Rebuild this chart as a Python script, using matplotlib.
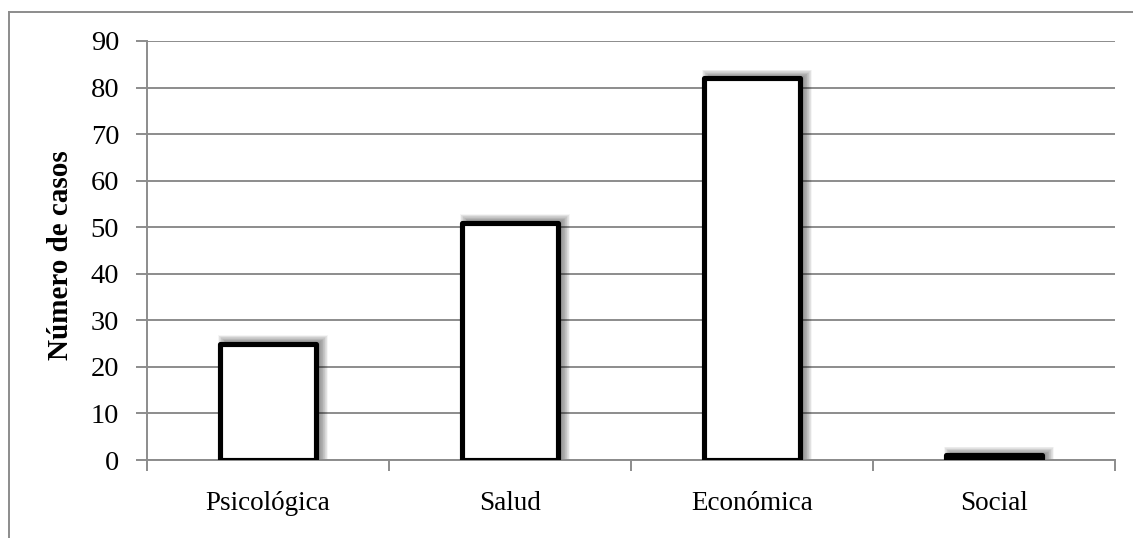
import matplotlib
matplotlib.use('Agg')

import matplotlib.pyplot as plt
import matplotlib.patches as patches
from matplotlib.lines import Line2D
import numpy as np

# data
categories = ['Psicológica', 'Salud', 'Económica', 'Social']
casos = [25, 51, 82, 1]
y_ticks = list(range(0, 91, 10))

plt.rcParams['font.family'] = ['Liberation Serif', 'DejaVu Serif']

W, H, DPI = 1133, 538, 100
fig = plt.figure(figsize=(W / DPI, H / DPI), dpi=DPI)
ax = fig.add_axes([147 / W, 1 - 460 / H, (1115 - 147) / W, (460 - 41) / H])

grid_col = '#8c8c8c'
x = np.arange(len(categories))
bar_w = 0.4

ax.set_xlim(-0.5, len(categories) - 0.5)
ax.set_ylim(0, 90)

# pixel size in data units, for the soft shadow
px_x = len(categories) / (ax.get_position().width * W)
px_y = 90 / (ax.get_position().height * H)

for xi, v in zip(x, casos):
    # blurred shadow: stacked translucent boxes around a core shifted right/up
    x0 = xi - bar_w / 2 + 6 * px_x
    for k in range(0, 12):
        pad_x = k * 0.7 * px_x
        pad_y = k * 0.6 * px_y
        sh = patches.Rectangle((x0 - pad_x, 0),
                               bar_w + 2 * pad_x - 2 * px_x, v + 2 * px_y + pad_y,
                               facecolor='black', edgecolor='none',
                               alpha=0.04, zorder=2)
        ax.add_patch(sh)
    ax.bar(xi, v, width=bar_w, facecolor='white', edgecolor='black',
           linewidth=3.7, joinstyle='round', zorder=3)

ax.set_yticks(y_ticks)
ax.yaxis.grid(True, color=grid_col, linewidth=1.4, zorder=1)
ax.set_axisbelow(True)

# category boundaries as major ticks, labels on minor ticks
ax.set_xticks(np.arange(-0.5, len(categories), 1.0))
ax.set_xticklabels([])
ax.set_xticks(x, minor=True)
ax.set_xticklabels(categories, minor=True)
ax.tick_params(axis='x', which='major', length=8, width=1.4, color=grid_col, direction='out')
ax.tick_params(axis='x', which='minor', length=0, pad=22, labelsize=19.5)
ax.tick_params(axis='y', length=8, width=1.4, color=grid_col, direction='out',
               pad=12, labelsize=20.5)

for side in ('top', 'right'):
    ax.spines[side].set_visible(False)
for side in ('left', 'bottom'):
    ax.spines[side].set_color(grid_col)
    ax.spines[side].set_linewidth(1.4)

ax.set_ylabel('Número de casos', fontsize=21, fontweight='bold')
ax.yaxis.set_label_coords(74 / W, 1 - 255 / H, transform=fig.transFigure)

# outer chart frame (left and top edges visible)
fig.add_artist(Line2D([8.5 / W, 8.5 / W], [1 - 12 / H, -0.1], color=grid_col,
                      linewidth=1.4, transform=fig.transFigure))
fig.add_artist(Line2D([8.5 / W, 1.1], [1 - 12 / H, 1 - 12 / H], color=grid_col,
                      linewidth=1.4, transform=fig.transFigure))

fig.savefig('out.png', dpi=DPI)
